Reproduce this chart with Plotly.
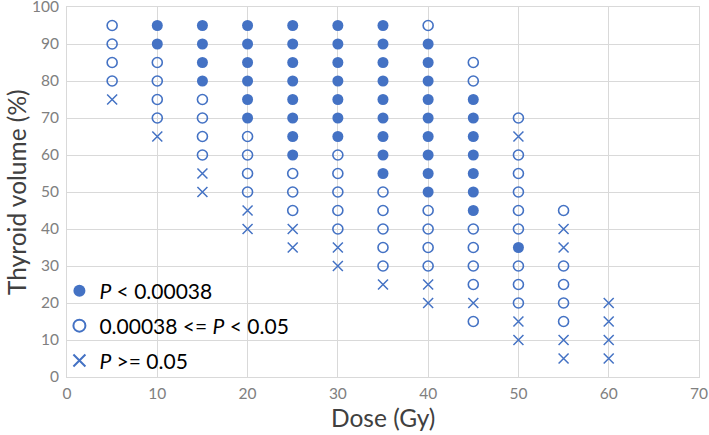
import plotly.graph_objects as go

# --- data ---
sig_strong_dose = [10, 10,
                   15, 15, 15, 15,
                   20, 20, 20, 20, 20, 20,
                   25, 25, 25, 25, 25, 25, 25, 25,
                   30, 30, 30, 30, 30, 30, 30,
                   35, 35, 35, 35, 35, 35, 35, 35, 35,
                   40, 40, 40, 40, 40, 40, 40, 40, 40,
                   45, 45, 45, 45, 45, 45, 45,
                   50]
sig_strong_vol = [95, 90,
                  95, 90, 85, 80,
                  95, 90, 85, 80, 75, 70,
                  95, 90, 85, 80, 75, 70, 65, 60,
                  95, 90, 85, 80, 75, 70, 65,
                  95, 90, 85, 80, 75, 70, 65, 60, 55,
                  90, 85, 80, 75, 70, 65, 60, 55, 50,
                  75, 70, 65, 60, 55, 50, 45,
                  35]

sig_weak_dose = [5, 5, 5, 5,
                 10, 10, 10, 10,
                 15, 15, 15, 15,
                 20, 20, 20, 20,
                 25, 25, 25,
                 30, 30, 30, 30, 30,
                 35, 35, 35, 35, 35,
                 40, 40, 40, 40, 40,
                 45, 45, 45, 45, 45, 45, 45,
                 50, 50, 50, 50, 50, 50, 50, 50, 50,
                 55, 55, 55, 55, 55]
sig_weak_vol = [95, 90, 85, 80,
                85, 80, 75, 70,
                75, 70, 65, 60,
                65, 60, 55, 50,
                55, 50, 45,
                60, 55, 50, 45, 40,
                50, 45, 40, 35, 30,
                95, 45, 40, 35, 30,
                85, 80, 40, 35, 30, 25, 15,
                70, 60, 55, 50, 45, 40, 30, 25, 20,
                45, 30, 25, 20, 15]

nonsig_dose = [5, 10, 15, 15, 20, 20, 25, 25, 30, 30, 35, 40, 40, 45,
               50, 50, 50, 55, 55, 55, 55, 60, 60, 60, 60]
nonsig_vol = [75, 65, 55, 50, 45, 40, 40, 35, 35, 30, 25, 25, 20, 20,
              65, 15, 10, 40, 35, 10, 5, 20, 15, 10, 5]

legend_names = ["<i>P</i> < 0.00038",
                "0.00038 <= <i>P</i> < 0.05",
                "<i>P</i> >= 0.05"]

x_title = "Dose (Gy)"
y_title = "Thyroid volume (%)"
x_ticks = [0, 10, 20, 30, 40, 50, 60, 70]
y_ticks = [0, 10, 20, 30, 40, 50, 60, 70, 80, 90, 100]

BLUE = "#4472C4"
FONT = "Lato, Open Sans, sans-serif"

fig = go.Figure()
fig.add_trace(go.Scatter(
    x=sig_strong_dose, y=sig_strong_vol, mode="markers", name=legend_names[0],
    legendgroup="a",
    marker=dict(symbol="circle", size=11, color=BLUE, line=dict(width=0))))
fig.add_trace(go.Scatter(
    x=sig_weak_dose, y=sig_weak_vol, mode="markers", name=legend_names[1],
    legendgroup="b",
    marker=dict(symbol="circle-open", size=10, color=BLUE, line=dict(width=1.6, color=BLUE))))
fig.add_trace(go.Scatter(
    x=nonsig_dose, y=nonsig_vol, mode="markers", name=legend_names[2],
    legendgroup="c",
    marker=dict(symbol="x-thin-open", size=10, color=BLUE, line=dict(width=1.5, color=BLUE))))

grid = "#D9D9D9"
axis_common = dict(showgrid=True, gridcolor=grid, gridwidth=1, zeroline=False,
                   showline=True, linecolor=grid, linewidth=1, mirror=True,
                   ticks="", tickfont=dict(size=15.5, color="#808080"),
                   automargin=False, ticklabeloverflow="allow")

fig.update_layout(
    width=709, height=435,
    margin=dict(l=67, r=10, t=7, b=58),
    paper_bgcolor="white", plot_bgcolor="white",
    font=dict(family=FONT, color="#404040"),
    showlegend=True,
    legend=dict(x=-0.012, y=-0.01, xanchor="left", yanchor="bottom",
                bgcolor="rgba(0,0,0,0)", font=dict(size=21, color="#000000", family=FONT),
                tracegroupgap=4.5, itemsizing="constant"),
    xaxis=dict(range=[0, 70], tickvals=x_ticks, ticklabelstandoff=2, **axis_common),
    yaxis=dict(range=[0, 100], tickvals=y_ticks, ticklabelstandoff=4, **axis_common),
    annotations=[
        dict(text=x_title, xref="paper", yref="paper", x=0.5, y=0, yshift=-57,
             xanchor="center", yanchor="bottom", showarrow=False,
             font=dict(size=24.5, color="#404040", family=FONT)),
        dict(text=y_title, xref="paper", yref="paper", x=0, y=0.5, xshift=-51,
             xanchor="center", yanchor="middle", textangle=-90, showarrow=False,
             font=dict(size=24.5, color="#404040", family=FONT)),
    ],
)

fig.write_html("out.html", config={"displayModeBar": False},
               post_script="document.body.style.margin='0';")
